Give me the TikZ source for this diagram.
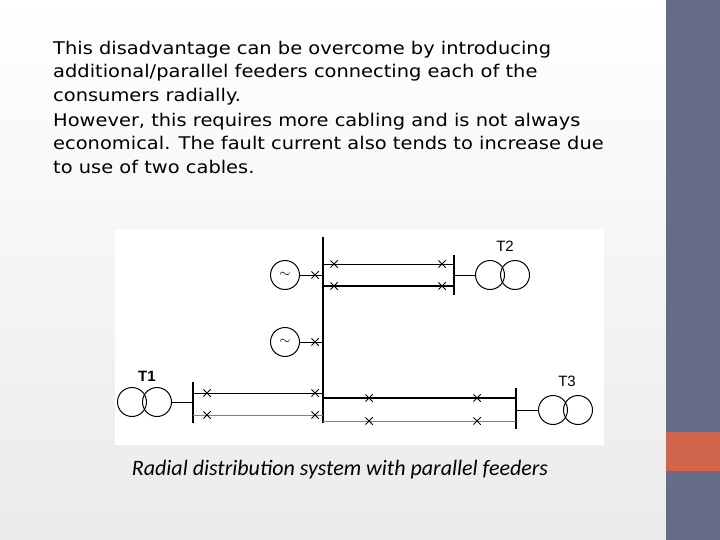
\documentclass[tikz,border=0pt]{standalone}
\usepackage{fontspec}
\setmainfont{DejaVu Sans}
\newfontfamily\capfont{Carlito}
\newfontfamily\labfont{Liberation Sans}
\begin{document}
\begin{tikzpicture}[x=1pt,y=-1pt,
  txt/.style={anchor=base west,inner sep=0,xscale=1.11,font=\fontsize{17.5}{20}\selectfont},
  ln/.style={line width=1pt},
  bus/.style={line width=2.2pt},
  brk/.style={inner sep=0,minimum size=7.5pt,path picture={\draw[line width=1pt] (path picture bounding box.south west) -- (path picture bounding box.north east) (path picture bounding box.north west) -- (path picture bounding box.south east);}},
  ring/.style={draw,circle,minimum size=29pt,inner sep=0,line width=1pt},
  lab/.style={font=\labfont\fontsize{15}{15}\selectfont,inner sep=0}]
\shade[top color=white,bottom color=black!8] (0,0) rectangle (666,540);
\useasboundingbox (0,0) rectangle (720,540);
\fill[fill={rgb,255:red,101;green,108;blue,135}] (666,0) rectangle (720,540);
\fill[fill={rgb,255:red,209;green,101;blue,75}] (666,432) rectangle (720,471);
\node[txt] (l1) at (53,55) {This disadvantage can be overcome by introducing};
\node[txt] (l2) at (53,78) {additional/parallel feeders connecting each of the};
\node[txt] (l3) at (53,102) {consumers radially.};
\node[txt] (l4) at (53,127) {However, this requires more cabling and is not always};
\node[txt] (l5) at (53,150) {economical. The fault current also tends to increase due};
\node[txt] (l6) at (53,174) {to use of two cables.};
\fill[white] (115,229) rectangle (604,445);
% main bus
\coordinate (mt) at (323,237); \coordinate (mb) at (323,423);
\draw[bus] (mt) -- (mb);
% T2
\coordinate (t2a) at (454,255); \coordinate (t2b) at (454,295);
\draw[bus] (t2a) -- (t2b);
\coordinate (f1a) at (323,264); \coordinate (f1b) at (454,264);
\coordinate (f2a) at (323,286); \coordinate (f2b) at (454,286);
\draw[ln] (f1a) -- (f1b); \draw[ln,line width=1.4pt] (f2a) -- (f2b);
\foreach \x in {334,442}{\node[brk] at (\x,264) {};\node[brk] at (\x,286) {};}
\node[ring] (t2l) at (490,275) {}; \node[ring] (t2r) at (515,275) {};
\draw[ln] (454,275) -- (t2l.west);
\node[lab] (T2) at (505,246) {T2};
% generators
\node[ring,font=\Large] (g1) at (285,275) {$\sim$};
\node[ring,font=\Large] (g2) at (285,342) {$\sim$};
\draw[ln] (g1.east) -- (323,275); \draw[ln] (g2.east) -- (323,342);
\node[brk] at (315,275) {}; \node[brk] at (315,342) {};
% T1
\draw[bus] (193,382) -- (193,423);
\draw[ln] (193,393) -- (323,393); \draw[ln,gray] (193,415) -- (323,415);
\foreach \x in {207,315}{\node[brk] at (\x,393) {};\node[brk] at (\x,415) {};}
\node[ring] (t1l) at (132,402) {}; \node[ring] (t1r) at (157,402) {};
\draw[ln] (t1r.east) -- (193,402);
\node[lab] (T1) at (147,376) {\textbf{T1}};
% T3
\draw[bus] (516,388) -- (516,429);
\draw[line width=2pt] (323,398) -- (516,398); \draw[ln,gray] (323,421) -- (516,421);
\foreach \x in {369,477}{\node[brk] at (\x,398) {};\node[brk] at (\x,421) {};}
\node[ring] (t3l) at (553,410) {}; \node[ring] (t3r) at (578,410) {};
\draw[ln] (516,410) -- (t3l.west);
\node[lab] (T3) at (567,381) {T3};
\node[font=\capfont\itshape\fontsize{22}{24}\selectfont] (cap) at (340,470) {Radial distribution system with parallel feeders};
\end{tikzpicture}
\end{document}
